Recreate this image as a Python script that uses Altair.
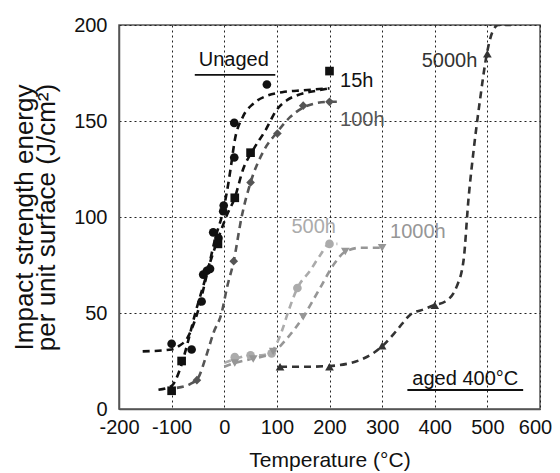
import altair as alt
import pandas as pd

FONT = "Liberation Sans"

# ---------------- measured markers ----------------
series_names = ["Unaged", "15h", "100h", "500h", "1000h", "5000h"]
series_colors = ["#111111", "#111111", "#555555", "#ababab", "#969696", "#333333"]
series_shapes = ["circle", "square", "diamond", "circle", "triangle-down", "triangle-up"]

unaged_x = [-100, -62, -43, -40, -33, -27, -21, -11, -2, -1, 19, 19, 81]
unaged_y = [34, 31, 56, 70, 72, 73, 92, 89, 103, 106, 131, 149, 169]
h15_x = [-100, -81, -12, 20, 50, 200]
h15_y = [9.5, 25, 86, 110, 133.5, 176]
h100_x = [-52, 18, 50, 101, 150, 200]
h100_y = [15, 77, 118, 143.5, 158, 160]
h500_x = [20, 50, 90, 139, 200]
h500_y = [27, 28, 29, 63, 86]
h1000_x = [20, 55, 93, 150, 230, 300]
h1000_y = [24, 26, 30, 48, 82, 84]
h5000_x = [106, 200, 300, 400, 500]
h5000_y = [22, 22, 33, 54, 185]

# ---------------- dashed fitted curves ----------------
c_unaged_x = [-155, -100, -85, -70, -60, -50, -40, -28, -16, -5, 5, 12, 20, 35, 55, 80, 110, 150, 200]
c_unaged_y = [30, 31, 33, 37, 43, 51, 62, 76, 90, 100, 113, 125, 140, 152, 159, 163, 165, 166, 167]
c_15_x = [-125, -100, -85, -70, -55, -40, -25, -10, 5, 20, 36, 55, 78, 100, 120, 145, 180, 200]
c_15_y = [10, 12, 20, 34, 50, 64, 78, 90, 101, 110, 125, 135, 145, 156, 161, 164, 166, 167]
c_100_x = [-90, -65, -50, -35, -20, -5, 5, 18, 33, 50, 74, 100, 125, 150, 170, 200, 220]
c_100_y = [11, 13, 16, 27, 40, 50, 63, 77, 100, 118, 134, 144, 152, 157, 159, 160, 160]
c_500_x = [0, 20, 50, 70, 90, 110, 122, 139, 163, 182, 200, 215]
c_500_y = [24, 26, 28, 28, 30, 41, 51, 63, 72, 80, 86, 86]
c_1000_x = [0, 20, 50, 90, 120, 150, 180, 210, 230, 260, 300]
c_1000_y = [22, 24, 26, 29, 37, 48, 62, 76, 82, 84, 84]
c_5000_x = [106, 150, 200, 258, 299, 328, 353, 380, 398, 420, 442, 455, 464, 474, 486, 499, 509, 521, 545]
c_5000_y = [22, 22, 22.4, 25.5, 32.4, 41, 49, 52, 54, 56, 64, 78, 109, 135, 161, 185, 196, 200, 200]

# ---------------- annotations ----------------
label_text = ["Unaged", "15h", "100h", "500h", "1000h", "5000h", "aged 400°C"]
label_x = [18, 220, 220, 170, 368, 481, 458]
label_y = [182, 171, 150.5, 95, 92, 181, 15.6]
label_align = ["center", "left", "left", "center", "center", "right", "center"]
label_color = ["#111111", "#111111", "#555555", "#ababab", "#969696", "#333333", "#111111"]

underline_x = [-56, 348]
underline_x2 = [97, 568]
underline_y = [174, 9.9]

x_ticks = [-200, -100, 0, 100, 200, 300, 400, 500, 600]
y_ticks = [0, 50, 100, 150, 200]

# ---------------- build tables ----------------
pts = []
for name, xs, ys in zip(series_names,
                        [unaged_x, h15_x, h100_x, h500_x, h1000_x, h5000_x],
                        [unaged_y, h15_y, h100_y, h500_y, h1000_y, h5000_y]):
    for a, b in zip(xs, ys):
        pts.append({"series": name, "T": a, "E": b})
pts = pd.DataFrame(pts)

crv = []
for name, xs, ys in zip(series_names,
                        [c_unaged_x, c_15_x, c_100_x, c_500_x, c_1000_x, c_5000_x],
                        [c_unaged_y, c_15_y, c_100_y, c_500_y, c_1000_y, c_5000_y]):
    for i, (a, b) in enumerate(zip(xs, ys)):
        crv.append({"series": name, "T": a, "E": b, "o": i})
crv = pd.DataFrame(crv)

labels = pd.DataFrame({"text": label_text, "T": label_x, "E": label_y,
                       "align": label_align, "color": label_color})
ulines = pd.DataFrame({"T": underline_x, "T2": underline_x2, "E": underline_y})

xscale = alt.Scale(domain=[-200, 600], nice=False, zero=False)
yscale = alt.Scale(domain=[0, 200], nice=False, zero=False)
cscale = alt.Scale(domain=series_names, range=series_colors)
sscale = alt.Scale(domain=series_names, range=series_shapes)

xaxis = alt.Axis(values=x_ticks, title="Temperature (°C)", grid=True,
                 labelFontSize=20, titleFontSize=21, labelPadding=8, titlePadding=12,
                 labelOverlap=False, labelFlush=False, labelExpr="'' + datum.value",
                 labelOffset={"condition": {"test": "datum.value == 600", "value": -5},
                              "value": 0})
yaxis = alt.Axis(values=y_ticks, title=["Impact strength energy", "per unit surface (J/cm²)"],
                 grid=True, labelFontSize=20, titleFontSize=26, titleLineHeight=22,
                 labelPadding=12, titlePadding=14, labelOverlap=False, labelFlush=False)

X = alt.X("T:Q", scale=xscale, axis=xaxis)
Y = alt.Y("E:Q", scale=yscale, axis=yaxis)

lines = alt.Chart(crv).mark_line(strokeDash=[7, 5], strokeWidth=2.6, interpolate="monotone",
                                  clip=True).encode(
    x=X, y=Y,
    color=alt.Color("series:N", scale=cscale, legend=None),
    order="o:Q",
    detail="series:N",
)

points = alt.Chart(pts).mark_point(filled=True, size=75, opacity=1).encode(
    x=alt.X("T:Q", scale=xscale),
    y=alt.Y("E:Q", scale=yscale),
    color=alt.Color("series:N", scale=cscale, legend=None),
    shape=alt.Shape("series:N", scale=sscale, legend=None),
)

def text_layer(align):
    sub = labels[labels["align"] == align]
    return alt.Chart(sub).mark_text(font=FONT, fontSize=20, align=align,
                                    baseline="middle").encode(
        x=alt.X("T:Q", scale=xscale),
        y=alt.Y("E:Q", scale=yscale),
        text="text:N",
        color=alt.Color("color:N", scale=None),
    )

texts = text_layer("center") + text_layer("left") + text_layer("right")

under = alt.Chart(ulines).mark_rule(color="#111111", strokeWidth=1.8).encode(
    x=alt.X("T:Q", scale=xscale),
    x2="T2:Q",
    y=alt.Y("E:Q", scale=yscale),
)

chart = alt.layer(lines, points, texts, under).properties(
    width=421, height=384,
    autosize=alt.AutoSizeParams(type="none"),
    padding={"left": 111, "top": 17, "right": 12, "bottom": 62},
).configure_view(
    stroke="#555555", strokeWidth=1.5,
).configure_axis(
    labelFont=FONT, titleFont=FONT, labelColor="#111111", titleColor="#111111",
    titleFontWeight="normal", tickSize=0, domainColor="#555555", domainWidth=1.5,
    gridColor="#222222", gridDash=[2, 3], gridWidth=1, gridOpacity=1,
)

chart.save("out.html", embed_options={"renderer": "svg", "actions": False})
